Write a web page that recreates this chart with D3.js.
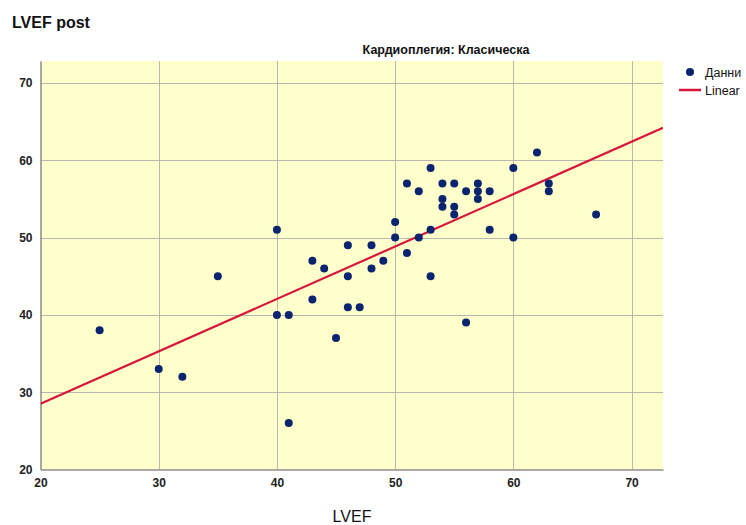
<!DOCTYPE html>
<html><head><meta charset="utf-8">
<script src="https://cdn.jsdelivr.net/npm/d3@7"></script>
<style>body{margin:0;background:#fff}svg{display:block}text{font-family:"Liberation Sans",Arial,sans-serif}</style>
</head><body>
<svg id="c" width="746" height="525"></svg>
<script>
const lvef = [25,30,32,35,40,40,41,41,43,43,44,45,46,46,46,47,48,48,49,50,50,51,51,52,52,53,53,53,54,54,54,55,55,55,56,56,57,57,57,58,58,60,60,62,63,63,67];
const lvefPost = [38,33,32,45,51,40,40,26,47,42,46,37,49,45,41,41,49,46,47,52,50,57,48,56,50,59,51,45,57,55,54,57,54,53,56,39,57,56,55,56,51,59,50,61,57,56,53];
const xTicks = [20,30,40,50,60,70];
const yTicks = [20,30,40,50,60,70];
const xDomain = [20,72.66];
const yDomain = [20,72.84];
const legendLabels = ["Данни","Linear"];

const svg = d3.select("#c");
const L=40.5, R=663, T=61, B=469.5;
const x = d3.scaleLinear().domain(xDomain).range([L,R]);
const y = d3.scaleLinear().domain(yDomain).range([B,T]);

svg.append("rect").attr("x",L).attr("y",T).attr("width",R-L).attr("height",B-T).attr("fill","#ffffcc");
// grid
svg.append("g").selectAll("line").data(xTicks.slice(1)).join("line")
  .attr("x1",d=>Math.round(x(d))+0.5).attr("x2",d=>Math.round(x(d))+0.5).attr("y1",T).attr("y2",B)
  .attr("stroke","#b8b8b0").attr("stroke-width",1);
svg.append("g").selectAll("line").data(yTicks.slice(1)).join("line")
  .attr("y1",d=>Math.round(y(d))+0.5).attr("y2",d=>Math.round(y(d))+0.5).attr("x1",L).attr("x2",R)
  .attr("stroke","#b8b8b0").attr("stroke-width",1);

// axes
const xAxis = svg.append("g").attr("transform",`translate(0,${B})`)
  .call(d3.axisBottom(x).tickValues(xTicks).tickSize(0).tickPadding(9));
const yAxis = svg.append("g").attr("transform",`translate(${L},0)`)
  .call(d3.axisLeft(y).tickValues(yTicks).tickSize(0).tickPadding(8));
[xAxis,yAxis].forEach(a=>{
  a.select(".domain").attr("stroke","#8c8c8c").attr("stroke-width",1.5);
  a.selectAll("text").attr("font-size",12).attr("font-weight","bold").attr("fill","#222")
   .attr("font-family","'Liberation Sans',Arial,sans-serif");
});

// regression (least squares from data)
const n=lvef.length, mx=d3.mean(lvef), my=d3.mean(lvefPost);
let sxy=0,sxx=0; for(let i=0;i<n;i++){sxy+=(lvef[i]-mx)*(lvefPost[i]-my);sxx+=(lvef[i]-mx)**2;}
const b=sxy/sxx, a=my-b*mx;
const clipId="clp";
svg.append("clipPath").attr("id",clipId).append("rect").attr("x",L).attr("y",T).attr("width",R-L).attr("height",B-T);
svg.append("line").attr("clip-path",`url(#${clipId})`)
  .attr("x1",x(xDomain[0])).attr("y1",y(a+b*xDomain[0]))
  .attr("x2",x(xDomain[1])).attr("y2",y(a+b*xDomain[1]))
  .attr("stroke","#d8163c").attr("stroke-width",2.2);

// points
svg.append("g").selectAll("circle").data(lvef.map((d,i)=>[d,lvefPost[i]])).join("circle")
  .attr("cx",d=>x(d[0])).attr("cy",d=>y(d[1])).attr("r",4).attr("fill","#0b2470");

// titles
svg.append("text").attr("x",12).attr("y",28).attr("font-size",16).attr("font-weight","bold").attr("fill","#111").text("LVEF post");
svg.append("text").attr("x",446).attr("y",54).attr("text-anchor","middle").attr("font-size",12.5).attr("font-weight","bold").attr("fill","#111").text("Кардиоплегия: Класическа");
svg.append("text").attr("x",352).attr("y",522).attr("text-anchor","middle").attr("font-size",16).attr("fill","#111").text("LVEF");

// legend
svg.append("circle").attr("cx",690).attr("cy",72).attr("r",4).attr("fill","#0b2470");
svg.append("line").attr("x1",679).attr("x2",701).attr("y1",90).attr("y2",90).attr("stroke","#d8163c").attr("stroke-width",2.5);
svg.selectAll(".lg").data(legendLabels).join("text").attr("class","lg")
  .attr("x",705).attr("y",(d,i)=>77+i*18).attr("font-size",12.5).attr("fill","#111").text(d=>d);
</script>
</body></html>
